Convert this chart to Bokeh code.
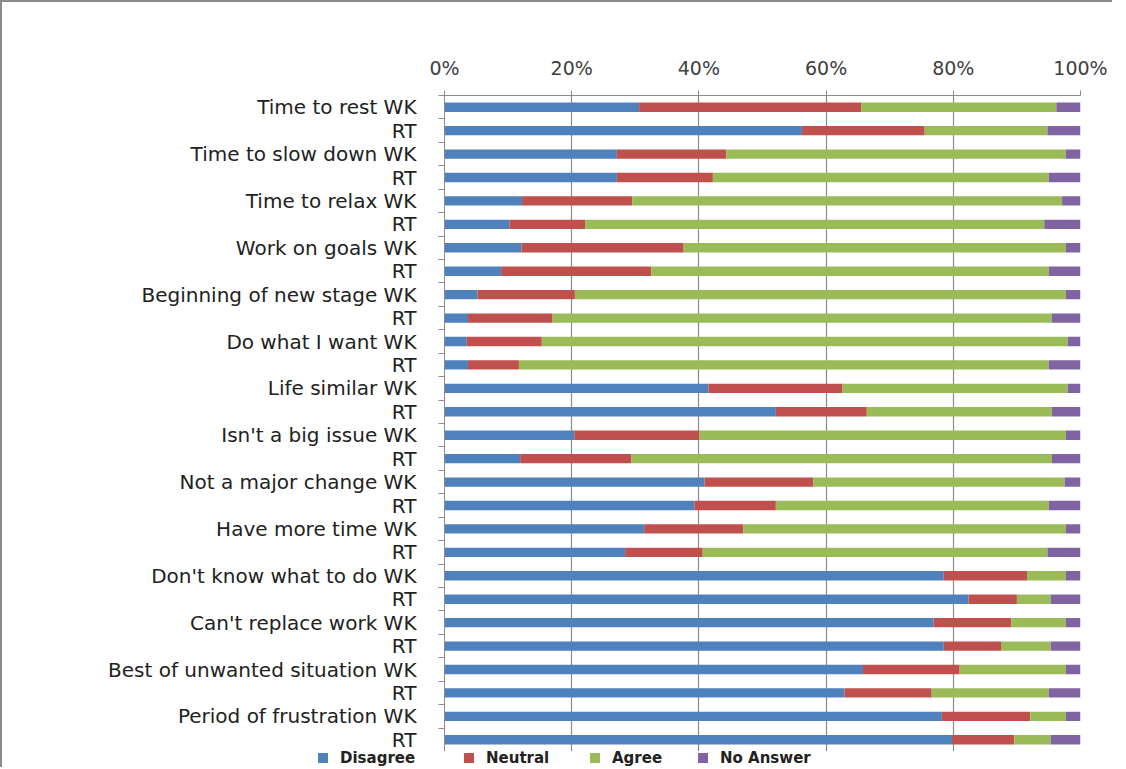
from bokeh.plotting import figure
from bokeh.models import ColumnDataSource, Range1d, FixedTicker, Div
from bokeh.layouts import column
from bokeh.embed import file_html
from bokeh.resources import INLINE

labels = ["Time to rest WK", "RT", "Time to slow down WK", "RT", "Time to relax WK", "RT",
          "Work on goals WK", "RT", "Beginning of new stage WK", "RT", "Do what I want WK", "RT",
          "Life similar WK", "RT", "Isn't a big issue WK", "RT", "Not a major change WK", "RT",
          "Have more time WK", "RT", "Don't know what to do WK", "RT", "Can't replace work WK", "RT",
          "Best of unwanted situation WK", "RT", "Period of frustration WK", "RT"]

disagree = [30.6, 56.2, 27.1, 27.1, 12.2, 10.2, 12.1, 8.9, 5.2, 3.7, 3.5, 3.7, 41.5, 52.1,
            20.4, 11.9, 40.9, 39.3, 31.4, 28.4, 78.5, 82.4, 76.9, 78.5, 65.8, 62.9, 78.2, 79.8]
neutral = [34.9, 19.3, 17.2, 15.1, 17.3, 11.9, 25.5, 23.6, 15.3, 13.3, 11.8, 8.0, 21.1, 14.3,
           19.7, 17.5, 17.1, 12.8, 15.6, 12.2, 13.1, 7.6, 12.2, 9.0, 15.2, 13.7, 13.9, 9.8]
agree = [30.7, 19.3, 53.4, 52.8, 67.6, 72.2, 60.1, 62.5, 77.2, 78.5, 82.7, 83.3, 35.4, 29.1,
         57.6, 66.1, 39.5, 42.9, 50.7, 54.2, 6.1, 5.3, 8.6, 7.8, 16.7, 18.4, 5.6, 5.7]
no_answer = [3.8, 5.2, 2.3, 5.0, 2.9, 5.7, 2.3, 5.0, 2.3, 4.5, 2.0, 5.0, 2.0, 4.5,
             2.3, 4.5, 2.5, 5.0, 2.3, 5.2, 2.3, 4.7, 2.3, 4.7, 2.3, 5.0, 2.3, 4.7]

series = ["Disagree", "Neutral", "Agree", "No Answer"]
colors = ["#4F81BD", "#C0504D", "#9BBB59", "#8064A2"]
x_ticks = [0, 20, 40, 60, 80, 100]
x_tick_labels = ["0%", "20%", "40%", "60%", "80%", "100%"]

n = len(labels)
ypos = list(range(1, n + 1))
src = ColumnDataSource(dict(y=ypos, Disagree=disagree, Neutral=neutral, Agree=agree,
                            **{"No Answer": no_answer}))

font = "DejaVu Sans"

p = figure(width=1110, height=749, output_backend="svg", toolbar_location=None,
           x_range=Range1d(0, 100), y_range=Range1d(n + 0.5, 0.5),
           x_axis_location="above", min_border_left=442, min_border_right=32,
           min_border_top=93, min_border_bottom=0)
p.outline_line_color = None

p.hbar_stack(series, y="y", height=0.4, color=colors, source=src, line_color=None)

xa = p.xaxis[0]
xa.ticker = FixedTicker(ticks=x_ticks, minor_ticks=[])
xa.major_label_overrides = {t: l for t, l in zip(x_ticks, x_tick_labels)}
xa.major_label_text_font = font
xa.major_label_text_font_size = "19px"
xa.major_label_text_color = "#404040"
xa.major_label_standoff = 12
xa.axis_line_color = "#8c8c8c"
xa.major_tick_line_color = "#8c8c8c"
xa.major_tick_out = 5
xa.major_tick_in = 0
xa.minor_tick_line_color = None

ya = p.yaxis[0]
ya.ticker = FixedTicker(ticks=ypos, minor_ticks=[i + 0.5 for i in range(0, n + 1)])
ya.major_label_overrides = {i + 1: l for i, l in enumerate(labels)}
ya.major_label_text_font = font
ya.major_label_text_font_size = "20px"
ya.major_label_text_color = "#222222"
ya.major_label_standoff = 22
ya.major_tick_line_color = None
ya.minor_tick_line_color = "#8c8c8c"
ya.minor_tick_out = 6
ya.minor_tick_in = 0
ya.axis_line_color = "#8c8c8c"

p.xgrid.grid_line_color = "#8c8c8c"
p.xgrid.grid_line_width = 1.2
p.xgrid.ticker = FixedTicker(ticks=x_ticks)
p.ygrid.grid_line_color = None

# legend strip below the chart (HTML text)
item_widths = [146, 126, 108, 160]
parts = []
for s, c, w in zip(series, colors, item_widths):
    parts.append(
        f'<span style="display:inline-block;width:{w}px;white-space:nowrap;">'
        f'<span style="display:inline-block;width:10px;height:10px;background:{c};'
        f'margin-right:12px;vertical-align:middle;"></span>'
        f'<span style="vertical-align:middle;font-size:15px;font-weight:bold;'
        f'font-family:\'DejaVu Sans\';color:#222222;">{s}</span></span>')
legend_div = Div(text="".join(parts), width=1110, height=16,
                 styles={"font-family": font, "font-size": "15px", "color": "#222222",
                         "padding-left": "316px", "line-height": "12px",
                         "white-space": "nowrap", "margin": "0"})

layout = column(p, legend_div, spacing=0)
layout.styles = {"border-left": "2px solid #8c8c8c", "border-top": "2px solid #8c8c8c"}

open("out.html", "w").write(file_html(layout, INLINE))
